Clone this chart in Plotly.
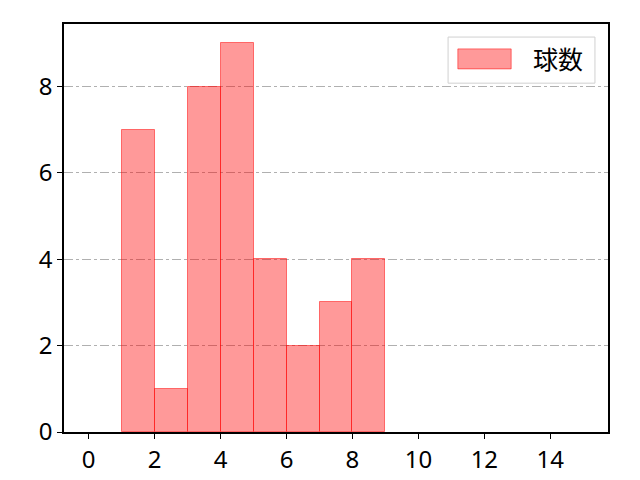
import plotly.graph_objects as go

# データ
bin_left = [1, 2, 3, 4, 5, 6, 7, 8]
counts = [7, 1, 8, 9, 4, 2, 3, 4]
series_name = '球数'
x_ticks = [0, 2, 4, 6, 8, 10, 12, 14]
y_ticks = [0, 2, 4, 6, 8]

font_jp = 'Noto Sans CJK JP'
font_num = 'Noto Sans'
bar_fill = 'rgba(255,0,0,0.4)'
bar_edge = 'rgba(255,0,0,0.5)'
tick_font = dict(family=font_num, size=24, color='black')

fig = go.Figure()
fig.add_trace(go.Bar(x=[b + 0.5 for b in bin_left],
                     y=counts,
                     width=1,
                     name=series_name,
                     marker=dict(color=bar_fill,
                                 line=dict(color=bar_edge, width=1)),
                     showlegend=False))

# 凡例 (matplotlib風に手作り)
fig.add_shape(type='rect', xref='paper', yref='paper',
              x0=0.706, x1=0.976, y0=0.855, y1=0.968,
              line=dict(color='#d0d0d0', width=1), fillcolor='white')
fig.add_shape(type='rect', xref='paper', yref='paper',
              x0=0.724, x1=0.822, y0=0.890, y1=0.939,
              line=dict(color=bar_edge, width=1), fillcolor=bar_fill)
fig.add_annotation(xref='paper', yref='paper', x=0.858, y=0.917,
                   xanchor='left', yanchor='middle', showarrow=False,
                   text=series_name, font=dict(family=font_jp, size=25, color='black'))

fig.update_layout(
    width=640, height=480,
    margin=dict(l=56, r=40, t=16, b=56),
    paper_bgcolor='white', plot_bgcolor='white',
    font=dict(family=font_num, size=24, color='black'),
    bargap=0,
)
fig.update_xaxes(range=[-0.75, 15.75], tickvals=x_ticks, ticks='outside',
                 ticklen=5, tickcolor='black', showline=True, linecolor='black',
                 linewidth=1.5, mirror=True, showgrid=False, zeroline=False,
                 tickfont=tick_font)
fig.update_yaxes(range=[0, 9.45], tickvals=y_ticks, ticks='outside',
                 ticklen=5, tickcolor='black', showline=True, linecolor='black',
                 linewidth=1.5, mirror=True, showgrid=True, gridcolor='#b0b0b0',
                 griddash='dashdot', gridwidth=1, zeroline=False,
                 tickfont=tick_font)

fig.write_html("out.html")
